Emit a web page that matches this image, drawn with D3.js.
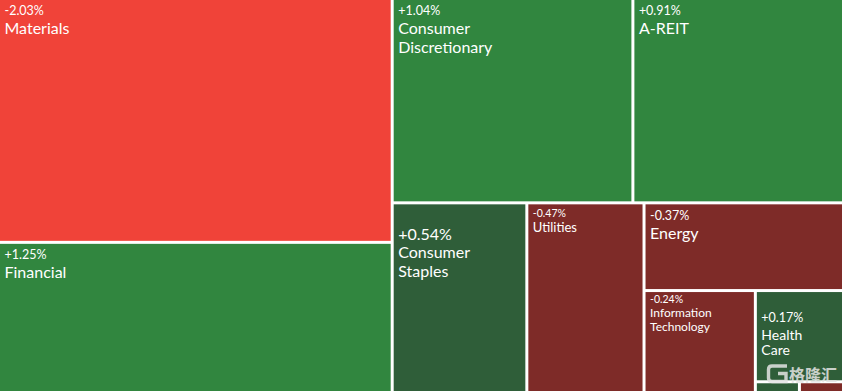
<!DOCTYPE html>
<html>
<head>
<meta charset="utf-8">
<script src="https://cdn.jsdelivr.net/npm/d3@7"></script>
<style>
  html, body { margin: 0; padding: 0; background: #fff; }
  svg { display: block; }
  text { font-family: Lato, "Open Sans", sans-serif; fill: #fff; }
</style>
</head>
<body>
<svg id="chart" width="842" height="391"></svg>
<script>
// sector moves (%), tile area = size of the move
const sectors = ['Materials', 'Financial', 'Consumer Discretionary', 'A-REIT', 'Consumer Staples',
  'Utilities', 'Energy', 'Information Technology', 'Health Care', 'Industrials', 'Communication Services'];
const changes = [-2.03, 1.25, 1.04, 0.91, 0.54, -0.47, -0.37, -0.24, 0.17, 0.01, -0.01];

const width = 842, height = 391, gap = 3;

// big moves bright, small moves dark
const color = d3.scaleThreshold()
  .domain([-0.75, 0, 0.75])
  .range(['#f04339', '#7e2b28', '#2f5e39', '#31863f']);

// strip order of the original layout: direction and how many tiles each strip takes
const strips = [['col', 2], ['row', 2], ['col', 1], ['col', 1], ['row', 1], ['col', 1], ['row', 1], ['row', 99]];

function stripTile(parent, x0, y0, x1, y1) {
  const nodes = parent.children;
  let i = 0, left = parent.value;
  for (const [dir, n] of strips) {
    if (i >= nodes.length) break;
    const row = { children: nodes.slice(i, i + n) };
    row.value = d3.sum(row.children, d => d.value);
    const k = left ? row.value / left : 1;
    if (dir === 'col') {
      const xm = x0 + (x1 - x0) * k;
      d3.treemapSlice(row, x0, y0, xm, y1);
      x0 = xm;
    } else {
      const ym = y0 + (y1 - y0) * k;
      d3.treemapDice(row, x0, y0, x1, ym);
      y0 = ym;
    }
    left -= row.value;
    i += row.children.length;
  }
}

// text sizes / offsets per tile (pct size, name size, baselines from tile top, line height)
const labelStyle = {
  'Materials': { ps: 12.5, ns: 16, py: 15, ny: 34, lh: 19, lines: ['Materials'] },
  'Financial': { ps: 12.5, ns: 16, py: 15.5, ny: 34.5, lh: 19, lines: ['Financial'] },
  'Consumer Discretionary': { ps: 12.5, ns: 16, py: 15, ny: 34.3, lh: 19, lines: ['Consumer', 'Discretionary'] },
  'A-REIT': { ps: 12.5, ns: 16, py: 15, ny: 34, lh: 19, lines: ['A-REIT'] },
  'Consumer Staples': { ps: 16, ns: 16, py: 35.8, ny: 54.1, lh: 18.4, lines: ['Consumer', 'Staples'] },
  'Utilities': { ps: 10.5, ns: 13, py: 12.5, ny: 28.1, lh: 15, lines: ['Utilities'] },
  'Energy': { ps: 12.5, ns: 16, py: 15.8, ny: 35.1, lh: 19, lines: ['Energy'] },
  'Information Technology': { ps: 10.5, ns: 12, py: 11, ny: 25, lh: 14, lines: ['Information', 'Technology'] },
  'Health Care': { ps: 12.5, ns: 14, py: 30, ny: 47.5, lh: 15.7, lines: ['Health', 'Care'] }
};

const data = sectors.map((name, i) => ({ name, change: changes[i], value: Math.abs(changes[i]) }));

const root = d3.hierarchy({ children: data })
  .sum(d => d.value || 0)
  .sort((a, b) => b.value - a.value);

d3.treemap()
  .tile(stripTile)
  .size([width + gap, height + gap])(root);

const svg = d3.select('#chart');
const g = svg.append('g').attr('transform', `translate(${-gap / 2},${-gap / 2})`);

const cell = g.selectAll('g.cell')
  .data(root.leaves())
  .join('g')
  .attr('class', 'cell');

cell.append('rect')
  .attr('x', d => d.x0 + gap / 2)
  .attr('y', d => d.y0 + gap / 2)
  .attr('width', d => Math.max(0, d.x1 - d.x0 - gap))
  .attr('height', d => Math.max(0, d.y1 - d.y0 - gap))
  .attr('fill', d => color(d.data.change));

const fmt = v => (v > 0 ? '+' : '') + v.toFixed(2) + '%';

cell.filter(d => labelStyle[d.data.name]).each(function (d) {
  const s = labelStyle[d.data.name];
  const x = d.x0 + gap / 2 + 4.5;
  const top = d.y0 + gap / 2;
  const sel = d3.select(this);
  sel.append('text')
    .attr('x', x)
    .attr('y', top + s.py)
    .attr('font-size', s.ps)
    .text(fmt(d.data.change));
  s.lines.forEach((line, j) => {
    sel.append('text')
      .attr('x', x)
      .attr('y', top + s.ny + j * s.lh)
      .attr('font-size', s.ns)
      .text(line);
  });
});

// watermark
const wm = svg.append('g').attr('opacity', 0.85);
wm.append('path')
  .attr('d', 'M787,366 H772 Q768.5,366 768.5,369.5 V378 Q768.5,381.5 772,381.5 H786 V373.5 H778')
  .attr('fill', 'none')
  .attr('stroke', '#e4e4e4')
  .attr('stroke-width', 3.4);
wm.append('text')
  .attr('x', 789)
  .attr('y', 381)
  .attr('font-size', 16)
  .attr('font-weight', 700)
  .style('font-family', '"Noto Sans CJK SC", sans-serif')
  .style('fill', '#e4e4e4')
  .text('格隆汇');
</script>
</body>
</html>
